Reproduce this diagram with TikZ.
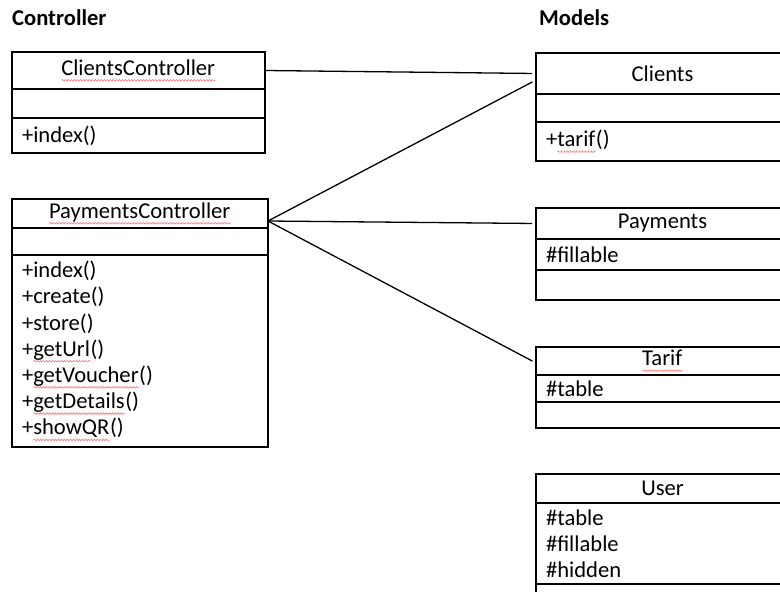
\documentclass[tikz,border=0pt]{standalone}
\usepackage{fontspec}
\setmainfont{Carlito}
\usetikzlibrary{positioning,decorations.pathmorphing}
\newcommand{\Fs}{\fontsize{22.6}{26.2}\selectfont}
\newsavebox{\spbox}
\newcommand{\Sp}[1]{\sbox{\spbox}{#1}\leavevmode\rlap{\usebox{\spbox}}%
  \raisebox{-5pt}{\tikz[baseline=0pt]\draw[red!55, line width=0.6pt, decorate,
    decoration={snake, amplitude=0.8pt, segment length=3pt}] (0pt,0pt) -- (\wd\spbox,0pt);}}

\begin{document}
\begin{tikzpicture}[x=1pt,y=-1pt,
  box/.style={draw, line width=1.2pt, font=\Fs, inner xsep=10pt, inner ysep=0pt, outer sep=0pt},
  head/.style={box, align=center},
  part/.style={box, align=left},
  link/.style={line width=1.3pt, shorten >=4pt}]
\clip (0,0) rectangle (780,592);
%% headings
\node[font=\Fs\bfseries, anchor=west, inner sep=0pt] (hctl) at (12,18) {Controller};
\node[font=\Fs\bfseries, anchor=west, inner sep=0pt] (hmod) at (539,18) {Models};
%% controllers
\node[head, anchor=north west, text width=233pt, minimum height=37pt] (cch) at (12,52) {\Sp{ClientsController}};
\node[part, text width=233pt, minimum height=29pt, below=0pt of cch] (cca) {};
\node[part, text width=233pt, minimum height=35pt, below=0pt of cca] (ccm) {+index()};
\node[head, anchor=north west, text width=236pt, minimum height=29pt] (pch) at (12,199) {\Sp{PaymentsController}};
\node[part, text width=236pt, minimum height=27pt, below=0pt of pch] (pca) {};
\node[part, text width=236pt, minimum height=192pt, below=0pt of pca] (pcm)
  {+index()\\+create()\\+store()\\+\Sp{getUrl}()\\+\Sp{getVoucher}()\\+\Sp{getDetails}()\\+\Sp{showQR}()};
%% models
\node[head, anchor=north west, text width=233pt, minimum height=41pt] (clh) at (536,53) {Clients};
\node[part, text width=233pt, minimum height=28pt, below=0pt of clh] (cla) {};
\node[part, text width=233pt, minimum height=39pt, below=0pt of cla] (clm) {+\Sp{tarif}()};
\node[head, anchor=north west, text width=233pt, minimum height=31pt] (pyh) at (536,208) {Payments};
\node[part, text width=233pt, minimum height=31pt, below=0pt of pyh] (pya) {\#fillable};
\node[part, text width=233pt, minimum height=30pt, below=0pt of pya] (pym) {};
\node[head, anchor=north west, text width=233pt, minimum height=28pt] (tah) at (536,347) {\Sp{Tarif}};
\node[part, text width=233pt, minimum height=27pt, below=0pt of tah] (taa) {\#table};
\node[part, text width=233pt, minimum height=26pt, below=0pt of taa] (tam) {};
\node[head, anchor=north west, text width=233pt, minimum height=29pt] (ush) at (536,474) {User};
\node[part, text width=233pt, minimum height=81pt, below=0pt of ush] (usa) {\#table\\\#fillable\\\#hidden};
\node[part, text width=233pt, minimum height=36pt, below=0pt of usa] (usm) {};
%% connectors
\coordinate (pcport) at ([yshift=-7.5pt]pch.east);
\draw[link] (cch.east) -- (clh.west);
\draw[link] (pcport) -- ([yshift=-6.5pt]clh.west);
\draw[link] (pcport) -- (pyh.west);
\draw[link] (pcport) -- ([yshift=-2pt]tah.west);
\end{tikzpicture}
\end{document}
